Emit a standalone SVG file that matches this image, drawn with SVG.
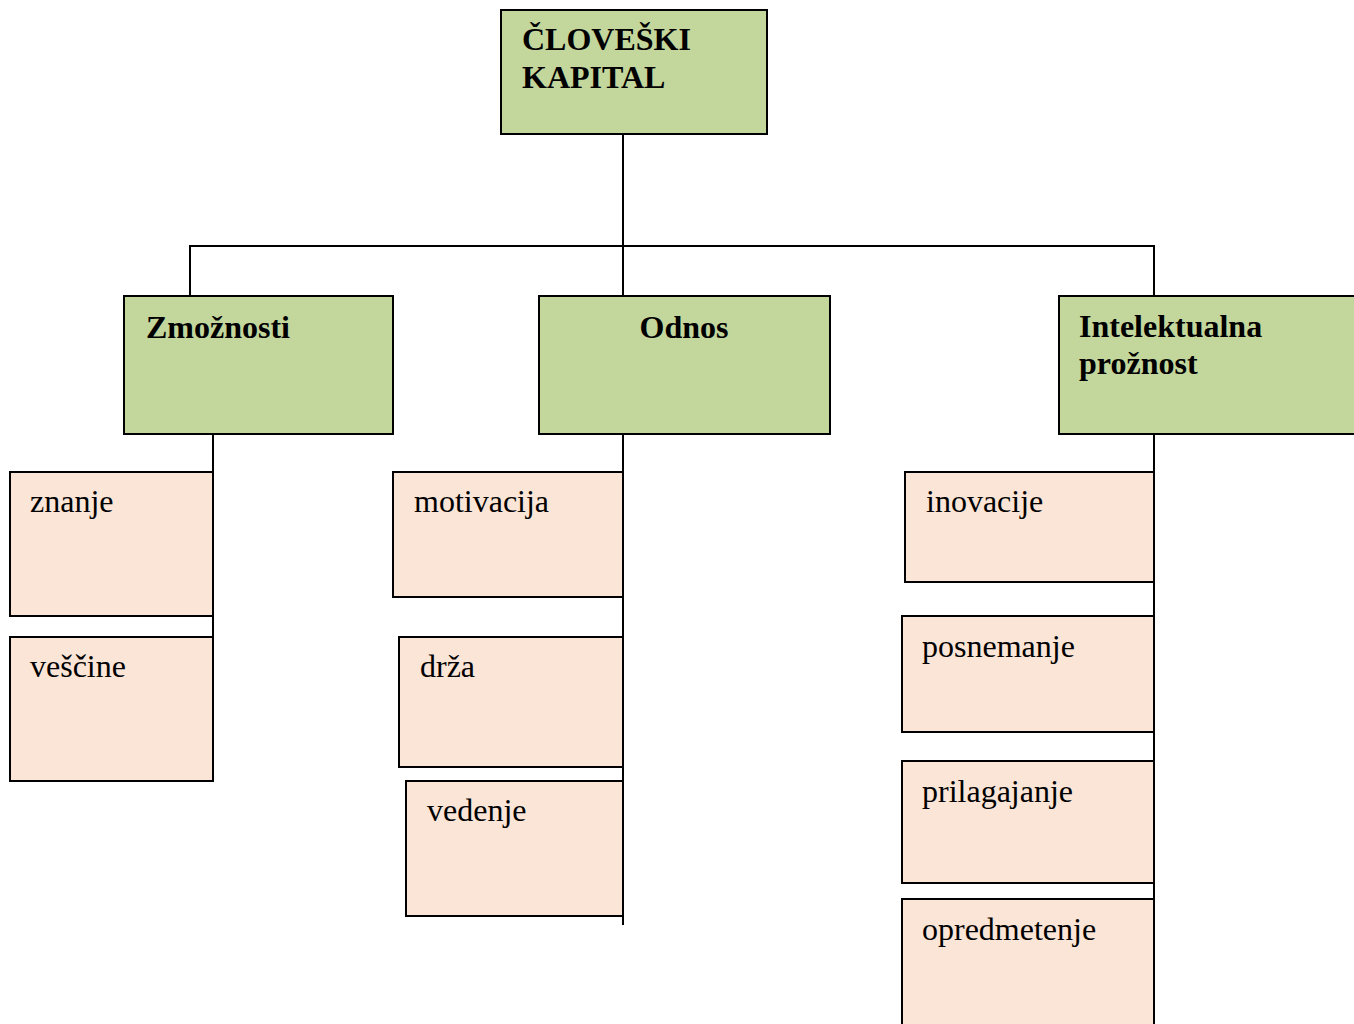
<svg xmlns="http://www.w3.org/2000/svg" width="1354" height="1024" viewBox="0 0 1354 1024">
  <style>
    .main { fill: #c3d69b; stroke: #000; stroke-width: 2; }
    .sub { fill: #fbe5d6; stroke: #000; stroke-width: 2; }
    .head { font-family: "Liberation Serif", "Times New Roman", serif; font-size: 32px; font-weight: bold; fill: #000; }
    .item { font-family: "Liberation Serif", "Times New Roman", serif; font-size: 32px; fill: #000; }
    .link { fill: none; stroke: #000; stroke-width: 2; }
  </style>
  <rect width="1354" height="1024" fill="#fff"/>

  <!-- connectors -->
  <g id="connectors">
    <path class="link" d="M623 134 V296"/>
    <path class="link" d="M190 296 V246 H1154 V296"/>
    <path class="link" d="M213 434 V781"/>
    <path class="link" d="M623 434 V925"/>
    <path class="link" d="M1154 434 V1024"/>
  </g>

  <!-- root -->
  <g id="cloveski-kapital">
    <rect class="main" x="501" y="10" width="266" height="124"/>
    <text class="head" x="522" y="50">ČLOVEŠKI</text>
    <text class="head" x="522" y="88">KAPITAL</text>
  </g>

  <!-- level 1 -->
  <g id="zmoznosti">
    <rect class="main" x="124" y="296" width="269" height="138"/>
    <text class="head" x="146" y="338">Zmožnosti</text>
  </g>
  <g id="odnos">
    <rect class="main" x="539" y="296" width="291" height="138"/>
    <text class="head" x="684" y="338" text-anchor="middle">Odnos</text>
  </g>
  <g id="intelektualna-proznost">
    <rect class="main" x="1059" y="296" width="300" height="138"/>
    <text class="head" x="1079" y="337">Intelektualna</text>
    <text class="head" x="1079" y="374">prožnost</text>
  </g>

  <!-- level 2: Zmožnosti -->
  <g id="znanje">
    <rect class="sub" x="10" y="472" width="203" height="144"/>
    <text class="item" x="30" y="512">znanje</text>
  </g>
  <g id="vescine">
    <rect class="sub" x="10" y="637" width="203" height="144"/>
    <text class="item" x="30" y="677">veščine</text>
  </g>

  <!-- level 2: Odnos -->
  <g id="motivacija">
    <rect class="sub" x="393" y="472" width="230" height="125"/>
    <text class="item" x="414" y="512">motivacija</text>
  </g>
  <g id="drza">
    <rect class="sub" x="399" y="637" width="224" height="130"/>
    <text class="item" x="420" y="677">drža</text>
  </g>
  <g id="vedenje">
    <rect class="sub" x="406" y="781" width="217" height="135"/>
    <text class="item" x="427" y="821">vedenje</text>
  </g>

  <!-- level 2: Intelektualna prožnost -->
  <g id="inovacije">
    <rect class="sub" x="905" y="472" width="249" height="110"/>
    <text class="item" x="926" y="512">inovacije</text>
  </g>
  <g id="posnemanje">
    <rect class="sub" x="902" y="616" width="252" height="116"/>
    <text class="item" x="922" y="657">posnemanje</text>
  </g>
  <g id="prilagajanje">
    <rect class="sub" x="902" y="761" width="252" height="122"/>
    <text class="item" x="922" y="802">prilagajanje</text>
  </g>
  <g id="opredmetenje">
    <rect class="sub" x="902" y="899" width="252" height="140"/>
    <text class="item" x="922" y="940">opredmetenje</text>
  </g>
</svg>
